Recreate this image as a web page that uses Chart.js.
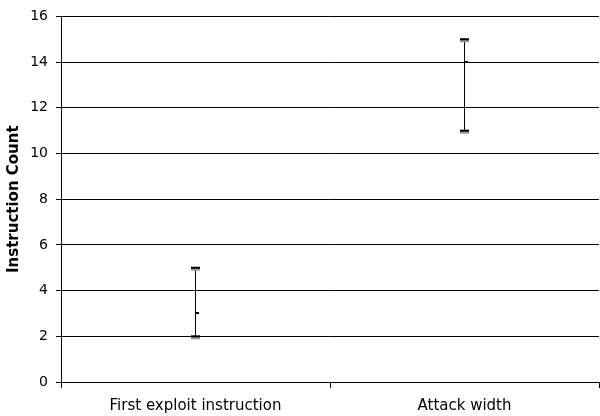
<!DOCTYPE html>
<html>
<head>
<meta charset="utf-8">
<script src="https://cdn.jsdelivr.net/npm/chart.js@4"></script>
<style>
html,body{margin:0;padding:0;background:#fff;}
#wrap{width:600px;height:416px;}
</style>
</head>
<body>
<div id="wrap"><canvas id="c" width="600" height="416"></canvas></div>
<script>
const categories = ["First exploit instruction", "Attack width"];
const highValues = [5, 15];
const lowValues = [2, 11];
const closeValues = [3, 14];
const yTicks = [0, 2, 4, 6, 8, 10, 12, 14, 16];

function capImage(){
  const c = document.createElement('canvas');
  c.width = 9; c.height = 8;
  const g = c.getContext('2d');
  g.fillStyle = '#000'; g.fillRect(0,3,9,2);
  g.fillStyle = '#999'; g.fillRect(0,5,9,2);
  return c;
}
function closeImage(){
  const c = document.createElement('canvas');
  c.width = 9; c.height = 2;
  const g = c.getContext('2d');
  g.fillStyle = '#000'; g.fillRect(5,0,3,2);
  return c;
}
const cap = capImage();
const closeMark = closeImage();

const fam = "'DejaVu Sans', Verdana, sans-serif";

new Chart(document.getElementById('c'), {
  data: {
    labels: categories,
    datasets: [
      {type:'line', data: highValues, showLine:false, pointStyle: cap, pointRadius: 5},
      {type:'line', data: lowValues, showLine:false, pointStyle: cap, pointRadius: 5},
      {type:'line', data: closeValues, showLine:false, pointStyle: closeMark, pointRadius: 4},
      {type:'bar', data: lowValues.map((l,i)=>[l, highValues[i]]), backgroundColor:'#000', barThickness:1, borderWidth:0, inflateAmount:0}
    ]
  },
  options: {
    responsive:false,
    animation:false,
    devicePixelRatio:1,
    layout:{autoPadding:false, padding:{top:14,right:1,bottom:0,left:0}},
    plugins:{legend:{display:false}, tooltip:{enabled:false}},
    scales:{
      x:{
        offset:true,
        grid:{offset:true, drawOnChartArea:false, drawTicks:true, tickLength:6, color:'#000'},
        border:{color:'#000'},
        ticks:{color:'#000', font:{family:fam, size:15}, padding:9, maxRotation:0},
        afterFit:(s)=>{s.height=34; s.paddingLeft=0; s.paddingRight=0;}
      },
      y:{
        min:0, max:16,
        afterBuildTicks:(s)=>{s.ticks = yTicks.map(v=>({value:v}));},
        grid:{color:'#000', tickLength:5},
        border:{color:'#000'},
        ticks:{color:'#000', font:{family:fam, size:14}, padding:8},
        title:{display:true, text:'Instruction Count', color:'#000', font:{family:fam, size:15, weight:'bold'}, padding:{top:5,bottom:0}},
        afterFit:(s)=>{s.width=61;}
      }
    }
  }
});
</script>
</body>
</html>
